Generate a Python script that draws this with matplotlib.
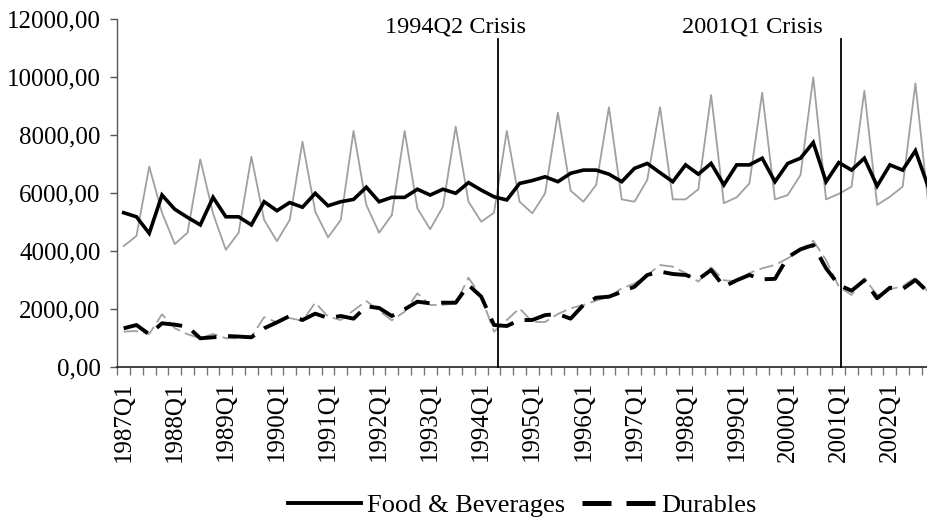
import matplotlib
matplotlib.use("Agg")
import matplotlib.pyplot as plt
from matplotlib.lines import Line2D
from matplotlib.ticker import FixedLocator, FuncFormatter, NullFormatter

plt.rcParams['font.family'] = ['Liberation Serif', 'DejaVu Serif']

quarters = [f"{y}Q{q}" for y in range(1987, 2003) for q in range(1, 5)]

food_sa = [5330, 5190, 4620, 5940, 5450, 5170, 4910, 5860, 5190, 5190, 4910, 5710,
           5400, 5680, 5520, 6000, 5570, 5710, 5790, 6210, 5710, 5860, 5860, 6140,
           5940, 6140, 6000, 6370, 6110, 5880, 5770, 6340, 6440, 6570, 6400, 6690,
           6800, 6800, 6660, 6400, 6860, 7030, 6710, 6400, 6980, 6660, 7030, 6290,
           6980, 6980, 7210, 6400, 7030, 7210, 7750, 6400, 7060, 6800, 7210, 6250,
           6980, 6800, 7470, 6230]

food_raw = [4180, 4530, 6920, 5330, 4250, 4640, 7170, 5300, 4050, 4640, 7260, 5080,
            4350, 5080, 7780, 5370, 4480, 5080, 8150, 5600, 4640, 5250, 8150, 5480,
            4760, 5540, 8300, 5710, 5020, 5330, 8150, 5710, 5310, 6000, 8780, 6090,
            5710, 6290, 8970, 5790, 5710, 6460, 8970, 5790, 5790, 6140, 9390, 5660,
            5860, 6340, 9470, 5790, 5940, 6630, 10000, 5790, 5980, 6230, 9530, 5600,
            5880, 6230, 9790, 5650]

durables_sa = [1345, 1458, 1138, 1517, 1470, 1400, 1000, 1034, 1080, 1060, 1034, 1345,
               1550, 1769, 1631, 1850, 1700, 1769, 1677, 2100, 2046, 1769, 2000, 2263,
               2206, 2228, 2228, 2838, 2435, 1458, 1424, 1631, 1631, 1800, 1838, 1677,
               2150, 2400, 2435, 2600, 2780, 3183, 3300, 3217, 3183, 3034, 3356, 2780,
               3000, 3183, 3034, 3050, 3793, 4068, 4217, 3414, 2838, 2641, 3000, 2379,
               2745, 2700, 3010, 2590]

durables_raw = [1230, 1250, 1150, 1827, 1350, 1140, 1000, 1150, 1000, 1000, 1050, 1730,
                1550, 1700, 1600, 2228, 1750, 1631, 1960, 2286, 1950, 1620, 1919, 2551,
                2150, 2150, 2200, 3090, 2435, 1228, 1630, 2034, 1562, 1562, 1838, 2034,
                2150, 2300, 2435, 2720, 2890, 3183, 3527, 3470, 3250, 2952, 3448, 3000,
                2970, 3250, 3414, 3527, 3757, 4044, 4366, 3700, 2780, 2493, 3067, 2493,
                2688, 2800, 3090, 2600]

crisis_pos = [29.3, 56.2]
crisis_labels = ["1994Q2 Crisis", "2001Q1 Crisis"]
crisis_text_x = [26.0, 49.2]

yticks = [0, 2000, 4000, 6000, 8000, 10000, 12000]

W, H = 928, 530
fig = plt.figure(figsize=(W / 100, H / 100), dpi=100)
left = 117.3 / W
bottom = (H - 367.3) / H
cat_w = 12.77
ncat = len(quarters)
ax = fig.add_axes([left, bottom, ncat * cat_w / W, 348.0 / H])

x = list(range(ncat))
FS = 18

ax.plot(x, food_raw, color='#a0a0a0', lw=1.3, zorder=2)
ax.plot(x, durables_raw, color='#a0a0a0', lw=1.3, dashes=(8, 3), zorder=2)
ax.plot(x, food_sa, color='black', lw=2.6, zorder=3, solid_joinstyle='miter')
ax.plot(x, durables_sa, color='black', lw=2.8, dashes=(7, 3), zorder=3,
        dash_capstyle='butt')

for p, lab, tx in zip(crisis_pos, crisis_labels, crisis_text_x):
    ax.plot([p, p], [0, 11320], color='black', lw=1.3, zorder=4, clip_on=False)
    ax.text(tx, 11530, lab, ha='center', va='baseline', fontsize=FS - 0.5,
            clip_on=False)

ax.set_xlim(-0.5, ncat - 0.5)
ax.set_ylim(0, 12000)

for s in ['top', 'right']:
    ax.spines[s].set_visible(False)
ax.spines['left'].set_color('#555555')
ax.spines['bottom'].set_color('#222222')
ax.spines['left'].set_linewidth(1.0)
ax.spines['bottom'].set_linewidth(1.2)

ax.set_yticks(yticks)
ax.yaxis.set_major_formatter(FuncFormatter(lambda v, p: f"{v:.2f}".replace('.', ',')))
ax.tick_params(axis='y', direction='out', length=5, width=1, color='#555555',
               labelsize=FS, pad=7)

ax.xaxis.set_major_locator(FixedLocator([i - 0.5 for i in range(ncat + 1)]))
ax.xaxis.set_major_formatter(NullFormatter())
q1_pos = [i for i, q in enumerate(quarters) if q.endswith('Q1')]
ax.set_xticks(q1_pos, [quarters[i] for i in q1_pos], minor=True)
ax.tick_params(axis='x', which='major', direction='out', length=6, width=1,
               color='#777777')
ax.tick_params(axis='x', which='minor', length=0, labelsize=FS, pad=10,
               labelrotation=90)

h1 = Line2D([], [], color='black', lw=2.8)
h2 = Line2D([], [], color='black', lw=3.6, dashes=(5.8, 3.0), dash_capstyle='butt')
fig.legend(handles=[h1, h2], labels=['Food & Beverages', 'Durables'],
           loc='center', bbox_to_anchor=(522 / W, 1 - 505 / H),
           ncol=2, frameon=False, fontsize=19, handlelength=2.8,
           columnspacing=0.65, handletextpad=0.2)

fig.savefig('out.png', dpi=100)
